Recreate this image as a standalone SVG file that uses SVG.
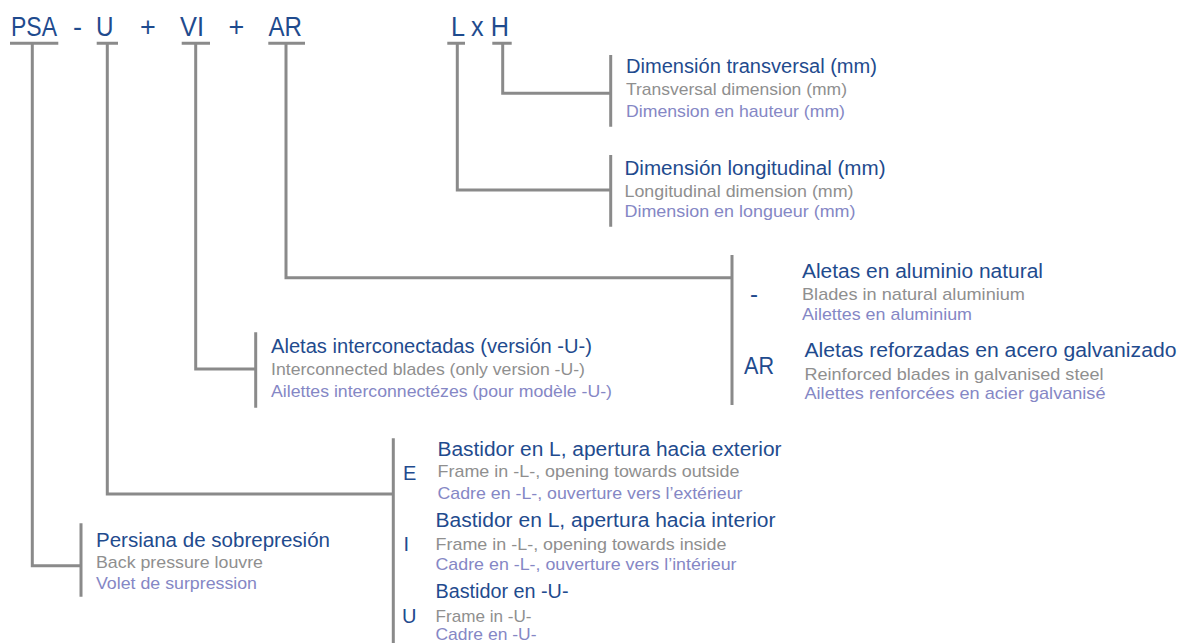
<svg xmlns="http://www.w3.org/2000/svg" width="1181" height="643" viewBox="0 0 1181 643">
<style>
text{font-family:"Liberation Sans",Arial,sans-serif;}
.code{font-size:27px;fill:#1f4b8e;}
.key{font-size:24px;fill:#1f4b8e;}
.key2{font-size:20px;fill:#1f4b8e;}
.h{font-size:20px;fill:#1f4b8e;}
.en{font-size:17px;fill:#8f8f8f;}
.fr{font-size:17px;fill:#8587c5;}
.ln{fill:none;stroke:#8a8a8a;stroke-width:3;stroke-linecap:butt;stroke-linejoin:miter;}
</style>
<rect width="1181" height="643" fill="#ffffff"/>
<g id="connectors" class="ln">
<path d="M10 43.3H58.3M32.3 43.3V565.7H81"/>
<path d="M96.7 43.3H118M107.3 43.3V494H393.3"/>
<path d="M181.7 43.3H210M195.7 43.3V369H255.7"/>
<path d="M268.3 43.3H305M286 43.3V277.7H732"/>
<path d="M447.3 43.3H465M457.3 43.3V190H610.7"/>
<path d="M492.3 43.3H511.7M502.7 43.3V93.3H610.7"/>
<path d="M610.7 55V126.7M610.7 155V226.7M732 255V405M255.7 332.3V407.7M393.3 438.3V643M81 523.3V596.7"/>
</g>
<g id="code">
<text class="code" x="11" y="35.7" textLength="46" lengthAdjust="spacingAndGlyphs">PSA</text>
<text class="code" x="73" y="35.7">-</text>
<text class="code" x="96" y="35.7" textLength="17.5" lengthAdjust="spacingAndGlyphs">U</text>
<text class="code" x="140" y="35.7">+</text>
<text class="code" x="180" y="35.7" textLength="24" lengthAdjust="spacingAndGlyphs">VI</text>
<text class="code" x="228.5" y="35.7">+</text>
<text class="code" x="268.5" y="35.7" textLength="33.5" lengthAdjust="spacingAndGlyphs">AR</text>
<text class="code" x="451" y="35.7" textLength="58" lengthAdjust="spacingAndGlyphs">L x H</text>
</g>
<g id="node-H">
<text class="h" x="626" y="72.7" textLength="251" lengthAdjust="spacingAndGlyphs">Dimensión transversal (mm)</text>
<text class="en" x="626" y="95" textLength="221" lengthAdjust="spacingAndGlyphs">Transversal dimension (mm)</text>
<text class="fr" x="626" y="117.3" textLength="219" lengthAdjust="spacingAndGlyphs">Dimension en hauteur (mm)</text>
</g>
<g id="node-L">
<text class="h" x="624.5" y="175" textLength="261" lengthAdjust="spacingAndGlyphs">Dimensión longitudinal (mm)</text>
<text class="en" x="624.5" y="196.7" textLength="229" lengthAdjust="spacingAndGlyphs">Longitudinal dimension (mm)</text>
<text class="fr" x="624.5" y="217.3" textLength="231" lengthAdjust="spacingAndGlyphs">Dimension en longueur (mm)</text>
</g>
<g id="node-AR">
<text class="key" x="750" y="302">-</text>
<text class="h" x="802" y="278.3" textLength="241" lengthAdjust="spacingAndGlyphs">Aletas en aluminio natural</text>
<text class="en" x="802" y="300" textLength="223" lengthAdjust="spacingAndGlyphs">Blades in natural aluminium</text>
<text class="fr" x="802" y="320" textLength="170" lengthAdjust="spacingAndGlyphs">Ailettes en aluminium</text>
<text class="key" x="744" y="374" textLength="30" lengthAdjust="spacingAndGlyphs">AR</text>
<text class="h" x="804.5" y="356.7" textLength="372" lengthAdjust="spacingAndGlyphs">Aletas reforzadas en acero galvanizado</text>
<text class="en" x="804.5" y="380" textLength="299" lengthAdjust="spacingAndGlyphs">Reinforced blades in galvanised steel</text>
<text class="fr" x="804.5" y="399.3" textLength="301" lengthAdjust="spacingAndGlyphs">Ailettes renforcées en acier galvanisé</text>
</g>
<g id="node-VI">
<text class="h" x="271" y="353.3" textLength="321" lengthAdjust="spacingAndGlyphs">Aletas interconectadas (versión -U-)</text>
<text class="en" x="271" y="375" textLength="314" lengthAdjust="spacingAndGlyphs">Interconnected blades (only version -U-)</text>
<text class="fr" x="271" y="396.7" textLength="341" lengthAdjust="spacingAndGlyphs">Ailettes interconnectézes (pour modèle -U-)</text>
</g>
<g id="node-PSA">
<text class="h" x="96" y="546.7" textLength="234" lengthAdjust="spacingAndGlyphs">Persiana de sobrepresión</text>
<text class="en" x="96" y="568.3" textLength="167" lengthAdjust="spacingAndGlyphs">Back pressure louvre</text>
<text class="fr" x="96" y="589.3" textLength="161" lengthAdjust="spacingAndGlyphs">Volet de surpression</text>
</g>
<g id="node-U">
<text class="key2" x="403" y="480">E</text>
<text class="h" x="437.5" y="455.7" textLength="344" lengthAdjust="spacingAndGlyphs">Bastidor en L, apertura hacia exterior</text>
<text class="en" x="437.5" y="477.3" textLength="302" lengthAdjust="spacingAndGlyphs">Frame in -L-, opening towards outside</text>
<text class="fr" x="437.5" y="499" textLength="305" lengthAdjust="spacingAndGlyphs">Cadre en -L-, ouverture vers l’extérieur</text>
<text class="key2" x="403.5" y="550.7">I</text>
<text class="h" x="435.5" y="527.3" textLength="340" lengthAdjust="spacingAndGlyphs">Bastidor en L, apertura hacia interior</text>
<text class="en" x="435.5" y="550" textLength="291" lengthAdjust="spacingAndGlyphs">Frame in -L-, opening towards inside</text>
<text class="fr" x="435.5" y="570" textLength="301" lengthAdjust="spacingAndGlyphs">Cadre en -L-, ouverture vers l’intérieur</text>
<text class="key2" x="402" y="623.3">U</text>
<text class="h" x="435.5" y="598.3" textLength="133" lengthAdjust="spacingAndGlyphs">Bastidor en -U-</text>
<text class="en" x="435.5" y="621.7" textLength="96" lengthAdjust="spacingAndGlyphs">Frame in -U-</text>
<text class="fr" x="435.5" y="639.5" textLength="101" lengthAdjust="spacingAndGlyphs">Cadre en -U-</text>
</g>
</svg>
